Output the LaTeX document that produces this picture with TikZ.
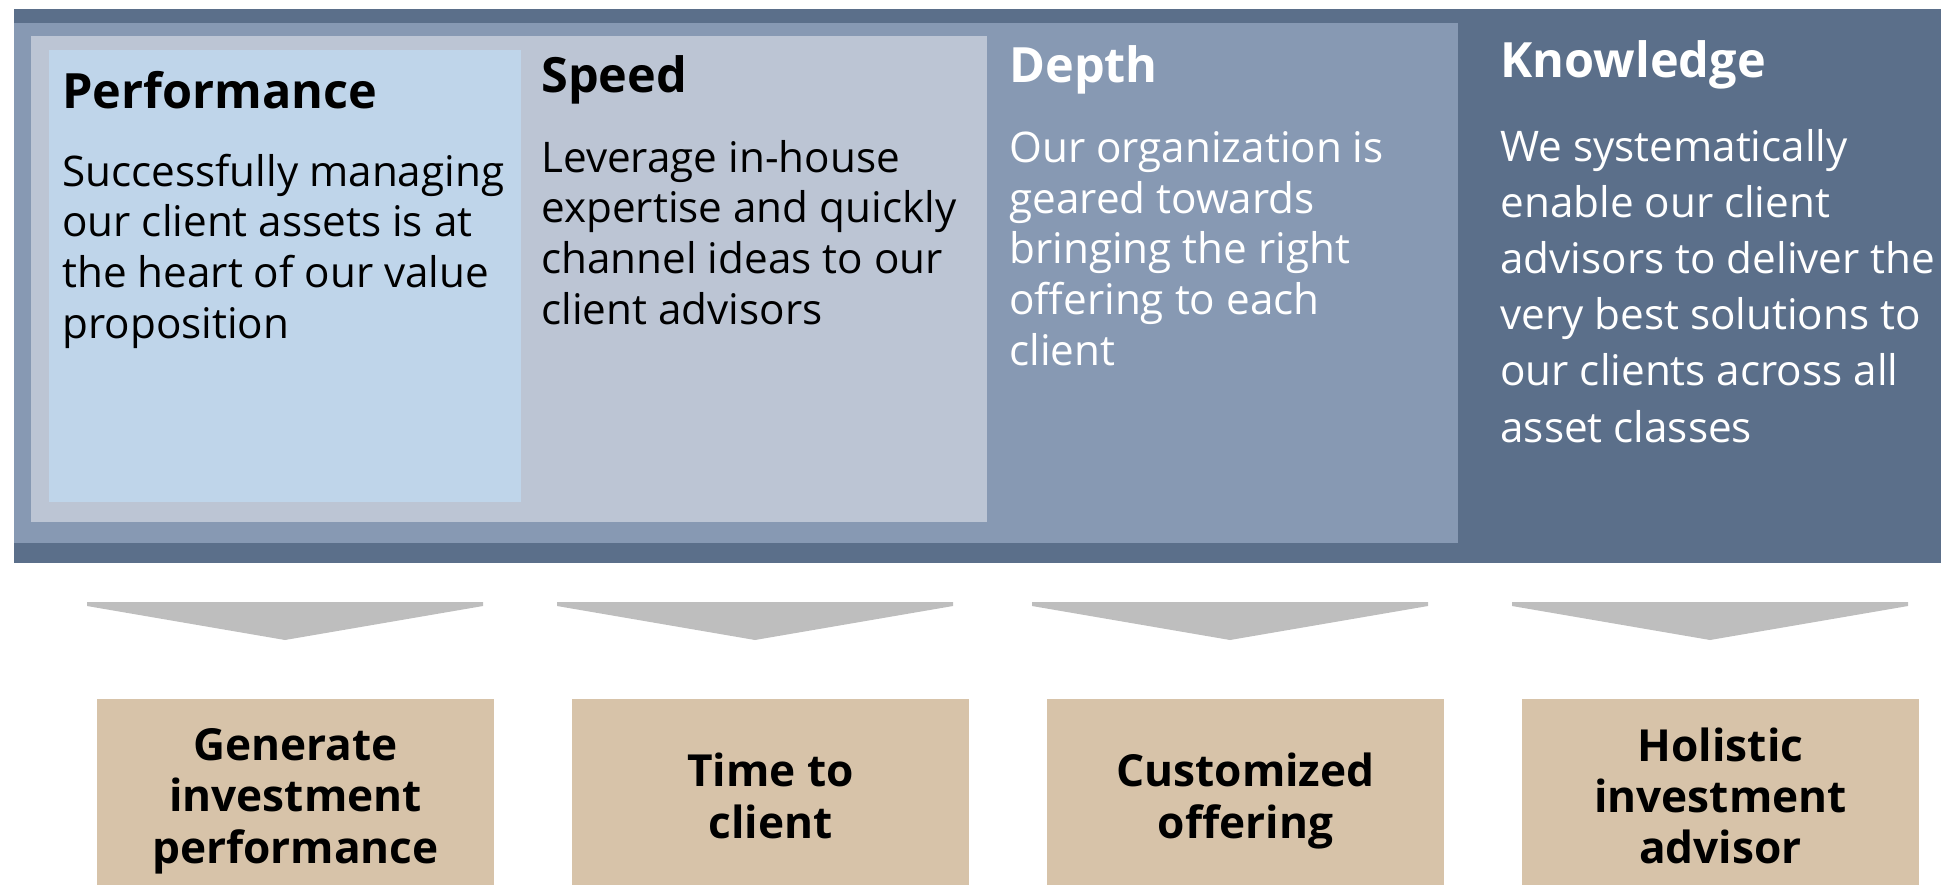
\documentclass[tikz,border=0pt]{standalone}
\usepackage{fontspec}
\setmainfont{Open Sans}
\definecolor{bandDark}{HTML}{5B6F8A}
\definecolor{bandMid}{HTML}{8799B3}
\definecolor{bandLight}{HTML}{BCC5D4}
\definecolor{bandBlue}{HTML}{BFD5EA}
\definecolor{chevGray}{HTML}{BEBEBE}
\definecolor{goalTan}{HTML}{D7C3A9}
\tikzset{
  head/.style={anchor=base west, inner sep=0pt, font=\fontsize{24.3}{28}\selectfont\bfseries},
  body/.style={anchor=base west, inner sep=0pt, align=left, font=\fontsize{21.1}{25.3}\selectfont},
  bigbody/.style={body, font=\fontsize{21.1}{28.1}\selectfont},
  goal/.style={fill=goalTan, inner sep=0pt, minimum width=198.5pt, minimum height=102pt,
    align=center, font=\fontsize{22.1}{25.7}\selectfont\bfseries},
}
\begin{document}
\begin{tikzpicture}[x=0.5pt, y=-0.5pt]
\useasboundingbox (0,0) rectangle (1941,884);

% nested bands
\fill[bandDark] (14,9) rectangle (1941,563);
\fill[bandMid] (14,23) rectangle (1458,543);
\fill[bandLight] (31,36) rectangle (987,522);
\fill[bandBlue] (49,50) rectangle (521,502);

% base anchor sits on the last line
\node[head] (perfHead) at (62,108) {Performance};
\node[body] (perfText) at (62,338) {Successfully managing\\our client assets is at\\the heart of our value\\proposition};

\node[head] (speedHead) at (541,92) {Speed};
\node[body] (speedText) at (541,324) {Leverage in-house\\expertise and quickly\\channel ideas to our\\client advisors};

\node[head, text=white] (depthHead) at (1009,82) {Depth};
\node[body, text=white] (depthText) at (1009,365) {Our organization is\\geared towards\\bringing the right\\offering to each\\client};

\node[head, text=white] (knowHead) at (1500,77) {Knowledge};
\node[bigbody, text=white] (knowText) at (1500,442) {We systematically\\enable our client\\advisors to deliver the\\very best solutions to\\our clients across all\\asset classes};

% chevrons
\foreach \tx in {285,755,1230,1710}
  \fill[chevGray] (\tx-198,602) -- (\tx+198,602) -- (\tx+198,606) -- (\tx,640) -- (\tx-198,606) -- cycle;

\node[goal] (goalPerf) at (295.5,801) {Generate\\investment\\performance};
\node[goal] (goalTime) at (770.5,801) {Time to\\client\vphantom{g}};
\node[goal] (goalOffer) at (1245.5,801) {Customized\\offering};
\node[goal] (goalAdvice) at (1720.5,801) {Holistic\\investment\\advisor\vphantom{g}};

\end{tikzpicture}
\end{document}
